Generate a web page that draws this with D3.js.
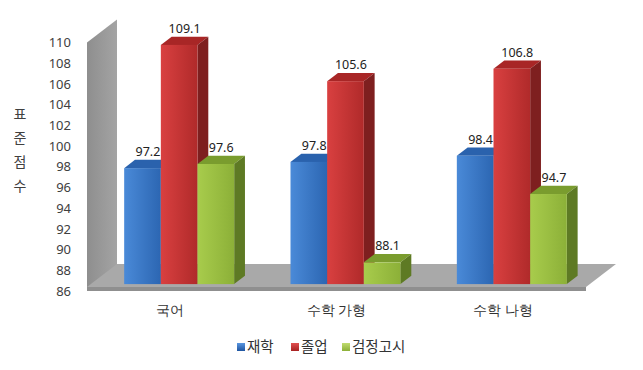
<!DOCTYPE html>
<html>
<head>
<meta charset="utf-8">
<script src="https://cdn.jsdelivr.net/npm/d3@7"></script>
<style>
  body { margin: 0; background: #fff; }
  svg { display: block; font-family: "Noto Sans CJK KR", "Noto Sans", sans-serif; }
</style>
</head>
<body>
<svg id="chart" width="643" height="370"></svg>
<script>
const categories = ["국어", "수학 가형", "수학 나형"];
const seriesNames = ["재학", "졸업", "검정고시"];
const enrolled = [97.2, 97.8, 98.4];
const graduated = [109.1, 105.6, 106.8];
const gedScores = [97.6, 88.1, 94.7];
const yTicks = [86, 88, 90, 92, 94, 96, 98, 100, 102, 104, 106, 108, 110];
const axisTitle = ["표", "준", "점", "수"];

const seriesValues = [enrolled, graduated, gedScores];

const palette = [
    {front: ["#4a8ad8", "#2c66b2"], top: "#2a62ad", side: "#1f4e8e", key: ["#5a96e0", "#1f55a0"]},
    {front: ["#d94040", "#b02a2a"], top: "#a82626", side: "#7e1f1f", key: ["#e05050", "#a82222"]},
    {front: ["#a8cc4c", "#8cb038"], top: "#7a9c2e", side: "#5e7a24", key: ["#c0dc70", "#8cb038"]}
];

const svg = d3.select("#chart");

// 3d projection: z = 0 front plane, z = 1 back wall
const depth = {dx: 30, dy: -23};
const barZ = [0.3, 0.66];
const plot = {left: 87, right: 586, bottom: 291, top: 42.5};

const x = d3.scaleBand().domain(categories).range([plot.left, plot.right]);
const xs = d3.scaleBand().domain(seriesNames).range([-55, 55]);
const y = d3.scaleLinear().domain([86, 110]).range([plot.bottom, plot.top]);

const pt = (px, py, z) => [px + z * depth.dx, py + z * depth.dy];
const poly = pts => "M" + pts.map(p => p.join(",")).join("L") + "Z";

const defs = svg.append("defs");
palette.forEach((c, i) => {
    const g = defs.append("linearGradient").attr("id", "front" + i)
        .attr("x1", 0).attr("x2", 1).attr("y1", 0).attr("y2", 0);
    g.append("stop").attr("offset", 0).attr("stop-color", c.front[0]);
    g.append("stop").attr("offset", 1).attr("stop-color", c.front[1]);
    const k = defs.append("linearGradient").attr("id", "key" + i)
        .attr("x1", 0).attr("x2", 0).attr("y1", 0).attr("y2", 1);
    k.append("stop").attr("offset", 0).attr("stop-color", c.key[0]);
    k.append("stop").attr("offset", 1).attr("stop-color", c.key[1]);
});
const wallGrad = defs.append("linearGradient").attr("id", "wall")
    .attr("x1", 0).attr("x2", 1).attr("y1", 0).attr("y2", 0);
wallGrad.append("stop").attr("offset", 0).attr("stop-color", "#8e8e8e");
wallGrad.append("stop").attr("offset", 1).attr("stop-color", "#a4a4a4");

// back wall
const yb = y(86), yt = y(110);
svg.append("path")
    .attr("d", poly([pt(plot.left, yt, 0), pt(plot.left, yt, 1), pt(plot.left, yb, 1), pt(plot.left, yb, 0)]))
    .attr("fill", "url(#wall)");

// floor
const floorY = yb - 4;
svg.append("path")
    .attr("d", poly([pt(plot.left, floorY, 0), pt(plot.right, floorY, 0), pt(plot.right, floorY, 1), pt(plot.left, floorY, 1)]))
    .attr("fill", "#a9a9a9");
svg.append("rect")
    .attr("x", plot.left).attr("y", floorY)
    .attr("width", plot.right - plot.left).attr("height", 4)
    .attr("fill", "#8f8f8f");

// y axis labels
const yAxis = svg.append("g")
    .attr("transform", "translate(71,0)")
    .call(d3.axisLeft(y).tickValues(yTicks).tickSize(0).tickPadding(0));
yAxis.select(".domain").remove();
yAxis.selectAll("text").attr("font-size", 13).attr("fill", "#404040")
    .attr("font-family", "'Noto Sans', sans-serif");

// axis title, stacked vertically
svg.append("g").selectAll("text")
    .data(axisTitle)
    .join("text")
    .attr("x", 20)
    .attr("y", (d, i) => 119 + i * 24)
    .attr("text-anchor", "middle")
    .attr("font-size", 14)
    .attr("fill", "#404040")
    .text(d => d);

// category labels
const xAxis = svg.append("g")
    .attr("transform", "translate(0,305)")
    .call(d3.axisBottom(x).tickSize(0).tickPadding(0));
xAxis.select(".domain").remove();
xAxis.selectAll("text").attr("font-size", 13.5).attr("fill", "#333");

// bars
const bars = [];
categories.forEach((cat, ci) => {
    seriesNames.forEach((s, si) => {
        bars.push({cat, si, value: seriesValues[si][ci]});
    });
});

const barG = svg.append("g");
bars.forEach(b => {
    const x0 = x(b.cat) + x.bandwidth() / 2 + xs(seriesNames[b.si]);
    const x1 = x0 + xs.bandwidth();
    const yv = y(b.value);
    const c = palette[b.si];
    const g = barG.append("g");
    // top face
    g.append("path")
        .attr("d", poly([pt(x0, yv, barZ[0]), pt(x1, yv, barZ[0]), pt(x1, yv, barZ[1]), pt(x0, yv, barZ[1])]))
        .attr("fill", c.top);
    // right side face
    g.append("path")
        .attr("d", poly([pt(x1, yv, barZ[0]), pt(x1, yv, barZ[1]), pt(x1, yb, barZ[1]), pt(x1, yb, barZ[0])]))
        .attr("fill", c.side);
    // front face
    const f = pt(x0, yv, barZ[0]);
    g.append("rect")
        .attr("x", f[0]).attr("y", f[1])
        .attr("width", x1 - x0).attr("height", yb - yv)
        .attr("fill", "url(#front" + b.si + ")");
    // value label
    const lab = pt((x0 + x1) / 2, yv, (barZ[0] + barZ[1]) / 2);
    g.append("text")
        .attr("x", lab[0]).attr("y", lab[1] - 8)
        .attr("text-anchor", "middle")
        .attr("font-size", 12.5)
        .attr("font-family", "'Noto Sans', sans-serif")
        .attr("fill", "#222")
        .text(b.value.toFixed(1));
});

// legend
const legendX = [237, 291, 342];
const legend = svg.append("g").attr("transform", "translate(0,347)");
seriesNames.forEach((s, i) => {
    legend.append("rect")
        .attr("x", legendX[i]).attr("y", -4)
        .attr("width", 8).attr("height", 8)
        .attr("fill", "url(#key" + i + ")");
    legend.append("text")
        .attr("x", legendX[i] + 10).attr("y", 0)
        .attr("dy", "0.35em")
        .attr("font-size", 14.5)
        .attr("fill", "#333")
        .text(s);
});
</script>
</body>
</html>
